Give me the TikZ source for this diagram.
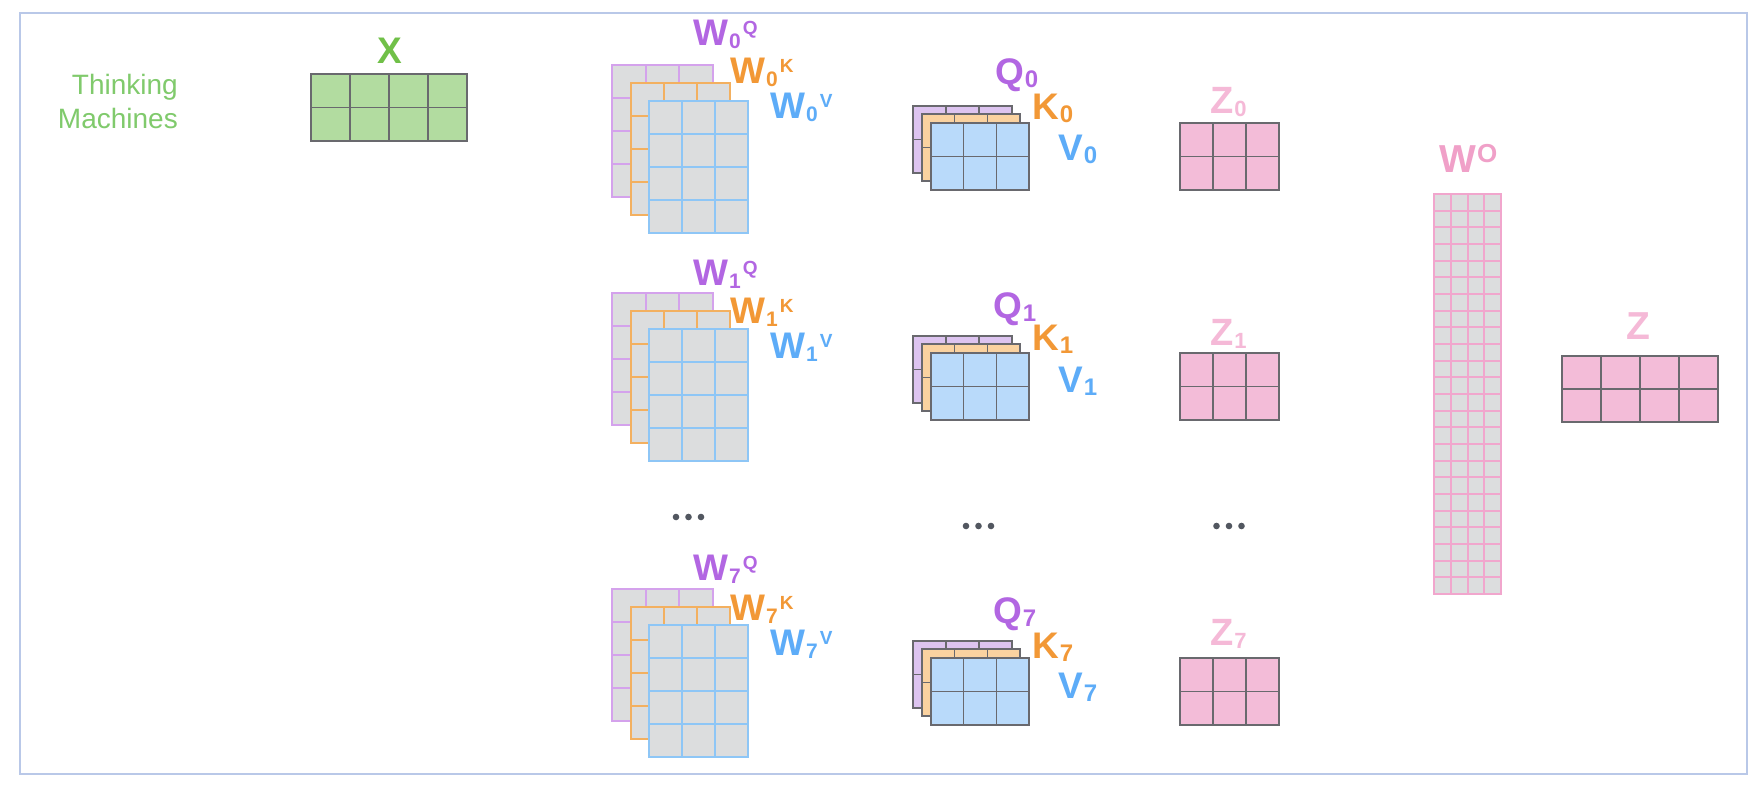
\documentclass[tikz,border=0pt]{standalone}
\usepackage{fontspec}
\setmainfont{Liberation Sans}
\definecolor{framec}{RGB}{185,200,232}
\definecolor{cq}{RGB}{178,102,226}
\definecolor{ck}{RGB}{242,152,54}
\definecolor{cv}{RGB}{93,172,248}
\definecolor{cx}{RGB}{112,192,72}
\definecolor{ctm}{RGB}{128,202,108}
\definecolor{cz}{RGB}{245,185,215}
\definecolor{cwo}{RGB}{240,160,200}
\definecolor{xfill}{RGB}{178,220,160}
\definecolor{zfill}{RGB}{243,188,216}
\definecolor{qfill}{RGB}{221,196,240}
\definecolor{kfill}{RGB}{250,210,160}
\definecolor{vfill}{RGB}{185,218,250}
\definecolor{wgray}{RGB}{220,221,222}
\definecolor{wqline}{RGB}{212,162,236}
\definecolor{wkline}{RGB}{243,176,96}
\definecolor{wvline}{RGB}{142,198,246}
\definecolor{woline}{RGB}{241,166,205}
\definecolor{darkline}{RGB}{105,105,110}
\definecolor{dotc}{RGB}{82,87,96}
\tikzset{
  darkgrid/.style={draw=darkline, line width=1.2pt, line cap=rect},
  wqgrid/.style={draw=wqline, line width=2pt, line cap=rect},
  wkgrid/.style={draw=wkline, line width=2pt, line cap=rect},
  wvgrid/.style={draw=wvline, line width=2pt, line cap=rect},
  wogrid/.style={draw=woline, line width=2pt, line cap=rect},
  lab/.style={inner sep=0pt, font=\bfseries, anchor=base west},
  tm/.style={inner sep=0pt, text=ctm, anchor=base east, font=\fontsize{28}{28}\selectfont},
  dotmark/.style={fill=dotc, draw=none}
}
% #1 x0, #2 y0, #3 x1, #4 y1, #5 cols, #6 rows, #7 fill colour, #8 line style
\newcommand\mgrid[8]{%
  \pgfmathsetmacro\gxa{#1}\pgfmathsetmacro\gya{#2}%
  \pgfmathsetmacro\gxb{#3}\pgfmathsetmacro\gyb{#4}%
  \fill[fill=#7] (\gxa,\gya) rectangle (\gxb,\gyb);
  \foreach \k in {0,...,#5}{\draw[#8] ({\gxa+(\gxb-\gxa)*\k/#5},\gya) -- ({\gxa+(\gxb-\gxa)*\k/#5},\gyb);}
  \foreach \k in {0,...,#6}{\draw[#8] (\gxa,{\gya+(\gyb-\gya)*\k/#6}) -- (\gxb,{\gya+(\gyb-\gya)*\k/#6});}
}
\newcommand\wstack[1]{%
  \mgrid{612}{#1}{713}{#1+132}{3}{4}{wgray}{wqgrid}
  \mgrid{631}{#1+18}{730}{#1+150}{3}{4}{wgray}{wkgrid}
  \mgrid{649}{#1+36}{748}{#1+168}{3}{4}{wgray}{wvgrid}
}
\newcommand\qstack[1]{%
  \mgrid{913}{#1}{1012}{#1+67}{3}{2}{qfill}{darkgrid}
  \mgrid{922}{#1+8}{1020}{#1+75}{3}{2}{kfill}{darkgrid}
  \mgrid{931}{#1+17}{1029}{#1+84}{3}{2}{vfill}{darkgrid}
}
\newcommand\wl[3]{{\fontsize{37}{37}\selectfont #1}\kern1pt\raisebox{-3pt}{\fontsize{21}{21}\selectfont #2}\kern2pt\raisebox{11pt}{\fontsize{19}{19}\selectfont #3}}
\newcommand\ql[2]{{\fontsize{37}{37}\selectfont #1}\kern1pt\raisebox{-3pt}{\fontsize{24}{24}\selectfont #2}}
\newcommand\zl[2]{{\fontsize{38}{38}\selectfont #1}\kern1pt\raisebox{-3pt}{\fontsize{22}{22}\selectfont #2}}
\begin{document}
\begin{tikzpicture}[x=1pt,y=-1pt]
\useasboundingbox (0,0) rectangle (1762,796);
\fill[white] (0,0) rectangle (1762,796);
\draw[framec, line width=1.6pt] (20,13) rectangle (1747,774);

% input
\node[tm] (tm1) at (178,94) {Thinking};
\node[tm] (tm2) at (178,128) {Machines};
\node[lab, anchor=base, text=cx] (xl) at (390,63) {\fontsize{37}{37}\selectfont X};
\mgrid{311}{74}{467}{141}{4}{2}{xfill}{darkgrid}

% weight stacks
\wstack{65}
\wstack{293}
\wstack{589}

\node[lab, text=cq] (w0q) at (693,45) {\wl{W}{0}{Q}};
\node[lab, text=ck] (w0k) at (730,83) {\wl{W}{0}{K}};
\node[lab, text=cv] (w0v) at (770,118) {\wl{W}{0}{V}};
\node[lab, text=cq] (w1q) at (693,285) {\wl{W}{1}{Q}};
\node[lab, text=ck] (w1k) at (730,323) {\wl{W}{1}{K}};
\node[lab, text=cv] (w1v) at (770,358) {\wl{W}{1}{V}};
\node[lab, text=cq] (w7q) at (693,580) {\wl{W}{7}{Q}};
\node[lab, text=ck] (w7k) at (730,620) {\wl{W}{7}{K}};
\node[lab, text=cv] (w7v) at (770,655) {\wl{W}{7}{V}};

% Q K V stacks
\qstack{106}
\qstack{336}
\qstack{641}

\node[lab, text=cq] (q0) at (995,84) {\ql{Q}{0}};
\node[lab, text=ck] (k0) at (1032,119) {\ql{K}{0}};
\node[lab, text=cv] (v0) at (1058,160) {\ql{V}{0}};
\node[lab, text=cq] (q1) at (993,318) {\ql{Q}{1}};
\node[lab, text=ck] (k1) at (1032,350) {\ql{K}{1}};
\node[lab, text=cv] (v1) at (1058,392) {\ql{V}{1}};
\node[lab, text=cq] (q7) at (993,623) {\ql{Q}{7}};
\node[lab, text=ck] (k7) at (1032,658) {\ql{K}{7}};
\node[lab, text=cv] (v7) at (1058,698) {\ql{V}{7}};

% Z heads
\mgrid{1180}{123}{1279}{190}{3}{2}{zfill}{darkgrid}
\mgrid{1180}{353}{1279}{420}{3}{2}{zfill}{darkgrid}
\mgrid{1180}{658}{1279}{725}{3}{2}{zfill}{darkgrid}
\node[lab, text=cz] (z0) at (1210,113) {\zl{Z}{0}};
\node[lab, text=cz] (z1) at (1210,345) {\zl{Z}{1}};
\node[lab, text=cz] (z7) at (1210,645) {\zl{Z}{7}};

% dots
\foreach \cx in {676,688.5,701}{\fill[dotmark] (\cx,517) circle (3.3);}
\foreach \cx in {966,978.5,991}{\fill[dotmark] (\cx,526) circle (3.3);}
\foreach \cx in {1216.5,1229,1241.5}{\fill[dotmark] (\cx,526) circle (3.3);}

% W^O
\mgrid{1434}{194}{1501}{594}{4}{24}{wgray}{wogrid}
\node[lab, text=cwo] (wo) at (1439,172) {{\fontsize{39}{39}\selectfont W}\kern1pt\raisebox{10pt}{\fontsize{26}{26}\selectfont O}};

% Z
\node[lab, anchor=base, text=cz] (z) at (1638,339) {\fontsize{39}{39}\selectfont Z};
\mgrid{1562}{356}{1718}{422}{4}{2}{zfill}{darkgrid}
\end{tikzpicture}
\end{document}
